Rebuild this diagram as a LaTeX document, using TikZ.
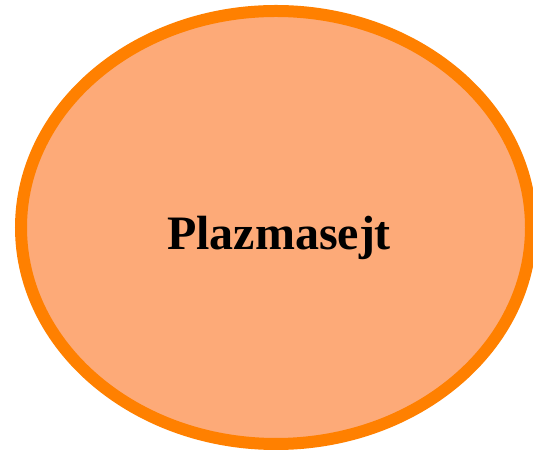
\documentclass[tikz,border=0pt]{standalone}
\usepackage{fontspec}
\setmainfont{Liberation Serif}
\usetikzlibrary{shapes.geometric,positioning}
\definecolor{cellrim}{HTML}{FF8000}
\definecolor{cellfill}{HTML}{FDAA78}
\tikzset{
  cell/.style={ellipse, draw=cellrim, line width=12pt, fill=cellfill,
               minimum width=510pt, minimum height=433pt, inner sep=0pt},
  celltext/.style={font=\fontsize{48}{54}\selectfont\bfseries, inner sep=0pt, anchor=base},
}
\begin{document}
\begin{tikzpicture}[x=1pt,y=1pt]
    \useasboundingbox (0,0) rectangle (533,457);
    \node[cell] (plasma) at (276,229.5) {};
    \node[celltext] (name) at (279,207) {Plazmasejt};
  \end{tikzpicture}
\end{document}
